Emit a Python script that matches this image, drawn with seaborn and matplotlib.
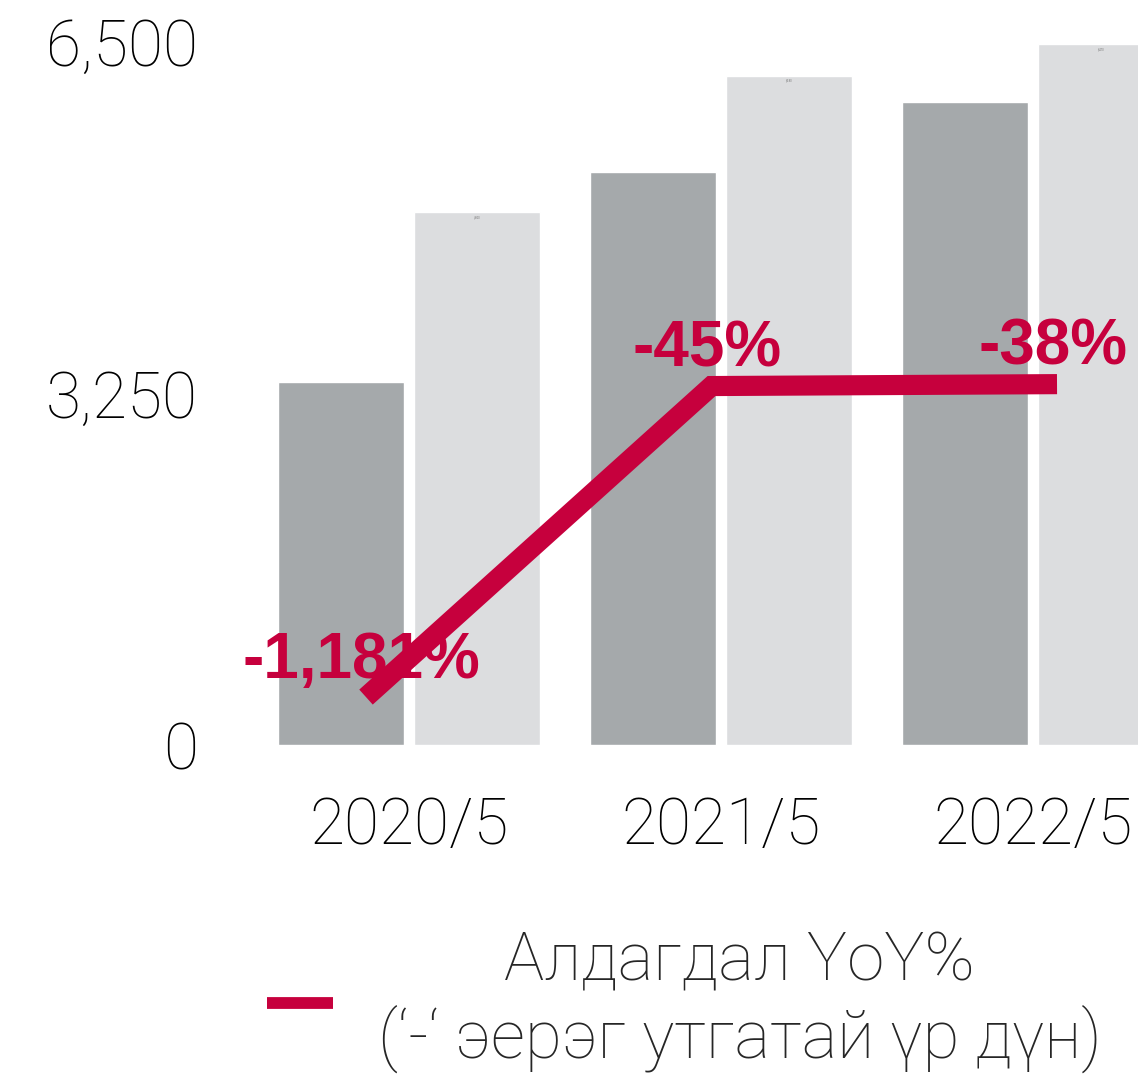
import matplotlib
matplotlib.use("Agg")
import matplotlib.pyplot as plt
import seaborn as sns
import pandas as pd
import numpy as np

# ---- data ----
periods = ["2020/5", "2021/5", "2022/5"]
series_names = ["Өмнөх үе", "Тайлант үе"]
prev_values = [3350, 5290, 5940]
curr_values = [4920, 6180, 6470]
yoy_values = [-1181, -45, -38]
yoy_labels = ["-1,181%", "-45%", "-38%"]
y_ticks = [0, 3250, 6500]
legend_label = "Алдагдал YoY%\n(‘-‘ эерэг утгатай үр дүн)"

bar_colors = ["#A5A9AB", "#DCDDDF"]
red = "#C6003D"

sns.set_theme(style="white")
plt.rcParams["font.family"] = ["Roboto", "DejaVu Sans"]

W, H = 1138, 1084
fig = plt.figure(figsize=(W / 100, H / 100), dpi=100)
fig.patch.set_facecolor("white")

ax_left, ax_bottom_px, ax_top_px = 220, 745, 0
pos = [ax_left / W, (H - ax_bottom_px) / H, (W - ax_left) / W, (ax_bottom_px - ax_top_px) / H]
ax = fig.add_axes(pos)

df = pd.DataFrame({
    "period": periods * 2,
    "series": [series_names[0]] * 3 + [series_names[1]] * 3,
    "value": prev_values + curr_values,
})
sns.barplot(data=df, x="period", y="value", hue="series", palette=bar_colors,
            width=0.872, gap=0.0735, saturation=1, legend=False, ax=ax)

ax.bar_label(ax.containers[1], labels=[f"{v:,}" for v in curr_values],
             fontsize=2, color="#777777", padding=-5)

ax.set_xlim(-0.606, 2.337)
ax.set_ylim(0, 6878)
ax.set_yticks(y_ticks)
ax.set_yticklabels([f"{v:,}" for v in y_ticks], fontsize=46, fontweight="light")
ax.set_xticks(range(len(periods)))
ax.set_xticklabels(periods, fontsize=46, fontweight="light")
ax.tick_params(axis="y", length=0, pad=16, colors="black")
ax.tick_params(axis="x", length=0, pad=36, colors="black")
ax.set_xlabel("")
ax.set_ylabel("")
for s in ax.spines.values():
    s.set_visible(False)
ax.patch.set_alpha(0)

# ---- line overlay (secondary scale) ----
ax2 = fig.add_axes(pos, frameon=False)
ax2.set_xlim(-0.4226, 2.2344)
ax2.set_ylim(-1356, 1365)
sns.lineplot(x=list(range(len(yoy_values))), y=yoy_values, color=red, linewidth=14.5,
             solid_capstyle="butt", solid_joinstyle="miter", ax=ax2, label=legend_label,
             legend=False)
ax2.set_xticks([])
ax2.set_yticks([])
ax2.set_xlabel("")
ax2.set_ylabel("")
for i, (v, lab) in enumerate(zip(yoy_values, yoy_labels)):
    ax2.annotate(lab, (i, v), xytext=(-3, 14), textcoords="offset points",
                 ha="center", va="baseline", fontsize=46, fontweight="bold",
                 color=red, family=["Liberation Sans", "DejaVu Sans"])

handles, labels = ax2.get_legend_handles_labels()
leg = fig.legend(handles, labels, loc="center",
                 bbox_to_anchor=(684 / W, 1 - 1002 / H), frameon=False,
                 handlelength=0.99, handletextpad=0.66,
                 prop={"size": 48.5, "weight": "light"})
for t in leg.get_texts():
    t.set_multialignment("center")
for h in leg.legend_handles:
    h.set_linewidth(8.5)

fig.savefig("out.png", dpi=100, facecolor="white")
